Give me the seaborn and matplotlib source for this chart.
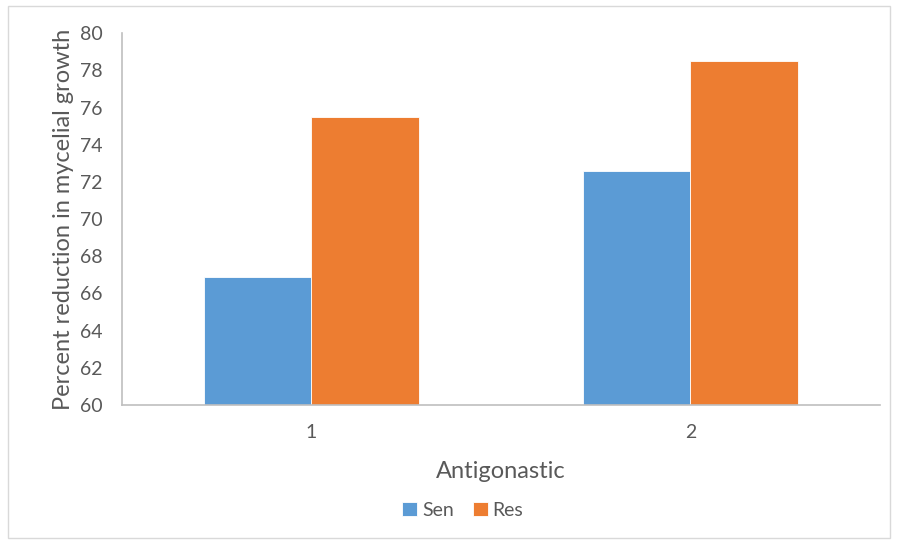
import numpy as np
import pandas as pd
import matplotlib
matplotlib.use("Agg")
import matplotlib.pyplot as plt
import seaborn as sns
from matplotlib.patches import Rectangle

# dati
categorie = ['1', '2']
sen = [66.9, 72.6]
res = [75.5, 78.5]
serie = ['Sen', 'Res']
colori = ['#5B9BD5', '#ED7D31']

df = pd.DataFrame({
    'Antigonastic': categorie * 2,
    'valore': sen + res,
    'serie': ['Sen'] * len(categorie) + ['Res'] * len(categorie),
})

sns.set_style('white')
plt.rcParams['font.family'] = ['Lato', 'DejaVu Sans']
grigio = '#595959'

fig = plt.figure(figsize=(8.97, 5.42), dpi=100)
ax = fig.add_axes([0.136, 0.2528, 0.845, 0.686])
sns.barplot(data=df, x='Antigonastic', y='valore', hue='serie', hue_order=serie,
            palette=colori, width=0.567, saturation=1, ax=ax,
            edgecolor='white', linewidth=0.6)

ax.set_ylim(60, 80)
ax.set_yticks(np.arange(60, 81, 2))
ax.tick_params(axis='both', length=0, labelsize=14, labelcolor=grigio)
ax.tick_params(axis='y', pad=14)
ax.tick_params(axis='x', pad=14)
ax.set_ylabel('Percent reduction in mycelial growth', fontsize=17, color=grigio, labelpad=4)
ax.set_xlabel('Antigonastic', fontsize=17, color=grigio, labelpad=14)

for s in ['top', 'right']:
    ax.spines[s].set_visible(False)
for s in ['left', 'bottom']:
    ax.spines[s].set_color('#BFBFBF')
    ax.spines[s].set_linewidth(1.2)

ax.legend(loc='center', bbox_to_anchor=(0.516, 0.058), bbox_transform=fig.transFigure,
          ncol=2, frameon=False, fontsize=14, handlelength=0.75, handleheight=0.75,
          columnspacing=1.0, handletextpad=0.25, labelcolor=grigio)

# bordo esterno del grafico
fig.patches.append(Rectangle((0.009, 0.007), 0.983, 0.982, transform=fig.transFigure,
                             fill=False, edgecolor='#D9D9D9', linewidth=1))

fig.savefig('out.png', dpi=100)
